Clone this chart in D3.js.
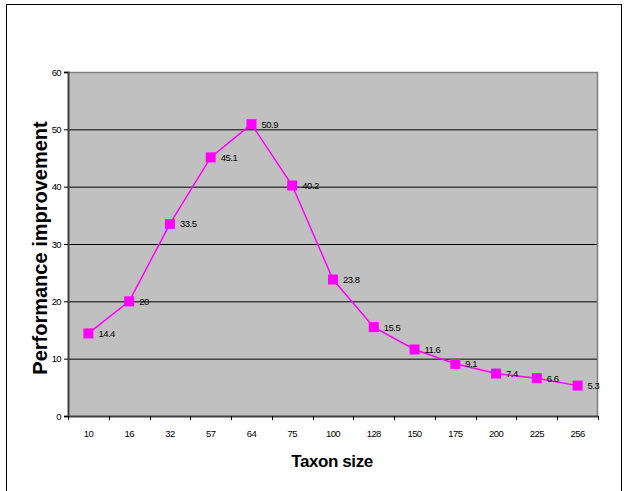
<!DOCTYPE html>
<html><head><meta charset="utf-8">
<script src="https://cdn.jsdelivr.net/npm/d3@7"></script>
<style>body{margin:0;background:#fff}svg{display:block}</style>
</head><body>
<script>
const categories = ["10","16","32","57","64","75","100","128","150","175","200","225","256"];
const values = [14.4,20,33.5,45.1,50.9,40.2,23.8,15.5,11.6,9.1,7.4,6.6,5.3];
const labels = ["14.4","20","33.5","45.1","50.9","40.2","23.8","15.5","11.6","9.1","7.4","6.6","5.3"];
const yTicks = [0,10,20,30,40,50,60];

const W=625,H=491;
const svg=d3.select("body").append("svg").attr("width",W).attr("height",H);
svg.append("rect").attr("x",6.5).attr("y",4.5).attr("width",615).attr("height",495)
  .attr("fill","#fff").attr("stroke","#000").attr("stroke-width",1);

const L=68,R=598,T=72,B=416;
const x=d3.scaleBand().domain(categories).range([L,R]);
const y=d3.scaleLinear().domain([0,60]).range([B,T]);

svg.append("rect").attr("x",L).attr("y",T).attr("width",R-L).attr("height",B-T).attr("fill","#C0C0C0");
// gridlines
svg.append("g").selectAll("line").data(yTicks.filter(d=>d>0&&d<60)).join("line")
  .attr("x1",L).attr("x2",R).attr("y1",d=>y(d)+0.5).attr("y2",d=>y(d)+0.5)
  .attr("stroke","#000").attr("stroke-width",1);
// top/right frame
svg.append("path").attr("d",`M${L},${T+0.5}H${R-0.5}V${B}`).attr("fill","none").attr("stroke","#808080").attr("stroke-width",1.5);

const font="Arial, 'Liberation Sans', sans-serif";
// y axis
const ya=svg.append("g").attr("transform",`translate(${L},0)`)
  .call(d3.axisLeft(y).tickValues(yTicks).tickSize(4).tickPadding(3).tickFormat(d3.format("d")));
ya.select(".domain").attr("stroke","#404040").attr("stroke-width",2);
ya.selectAll(".tick line").attr("stroke","#000");
ya.selectAll("text").attr("font-family",font).attr("font-size",9.5).attr("letter-spacing","-0.6px").attr("fill","#000");
// x axis
const xa=svg.append("g").attr("transform",`translate(0,${B})`)
  .call(d3.axisBottom(x).tickSize(0).tickPadding(14));
xa.select(".domain").attr("stroke","#404040").attr("stroke-width",2);
xa.selectAll("text").attr("font-family",font).attr("font-size",9.5).attr("letter-spacing","-0.6px").attr("fill","#000");
const bounds=categories.map((c,i)=>L+i*x.step()).concat([R]);
xa.selectAll(".bt").data(bounds).join("line").attr("class","bt")
  .attr("x1",d=>Math.round(d)+0.5).attr("x2",d=>Math.round(d)+0.5).attr("y1",0).attr("y2",4).attr("stroke","#000");

// line
const cx=d=>x(d)+x.bandwidth()/2;
const pts=categories.map((c,i)=>[cx(c),y(values[i])]);
svg.append("path").attr("d",d3.line()(pts)).attr("fill","none").attr("stroke","#FF00FF").attr("stroke-width",1.5);
svg.append("g").selectAll("rect").data(pts).join("rect")
  .attr("x",d=>d[0]-5).attr("y",d=>d[1]-5).attr("width",10).attr("height",10).attr("fill","#FF00FF");
svg.append("g").selectAll("text").data(pts).join("text")
  .attr("x",d=>d[0]+10).attr("y",d=>d[1]+3.5).text((d,i)=>labels[i])
  .attr("font-family",font).attr("font-size",9.5).attr("letter-spacing","-0.5px").attr("fill","#000");

svg.append("text").attr("transform","translate(47,248) rotate(-90)").attr("text-anchor","middle")
  .attr("font-family",font).attr("font-weight","bold").attr("font-size",20).text("Performance improvement");
svg.append("text").attr("x",332).attr("y",467).attr("text-anchor","middle")
  .attr("font-family",font).attr("font-weight","bold").attr("font-size",17).attr("letter-spacing","-0.4px").text("Taxon size");
</script>
</body></html>
